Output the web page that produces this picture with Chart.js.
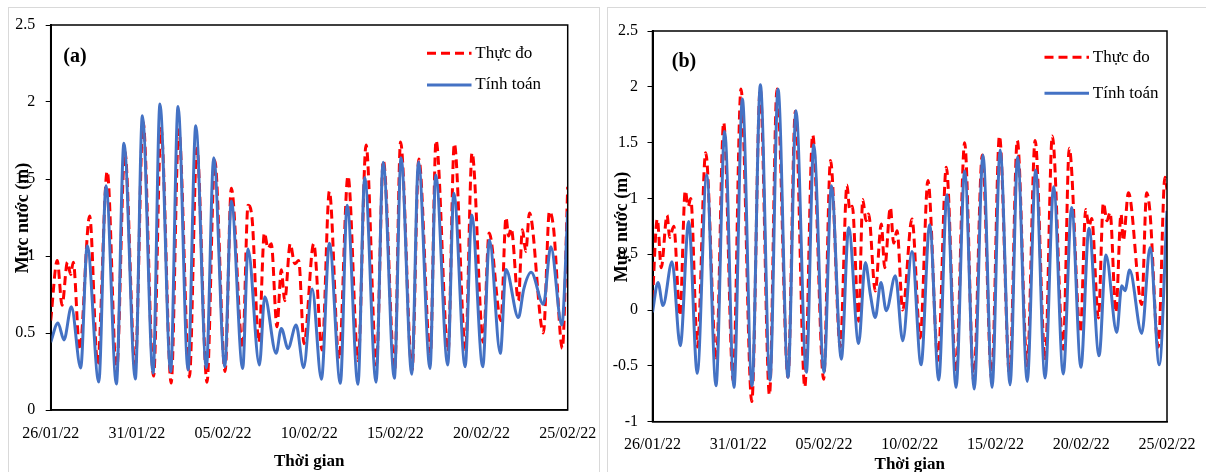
<!DOCTYPE html>
<html><head><meta charset="utf-8">
<script src="https://cdn.jsdelivr.net/npm/chart.js@4.4.1/dist/chart.umd.min.js"></script>
<style>
html,body{margin:0;padding:0;background:#fff;width:1206px;height:472px;overflow:hidden;}
.panel{position:absolute;border:1px solid #d9d9d9;box-sizing:border-box;}
canvas{position:absolute;}
</style></head><body>
<div class="panel" style="left:8px;top:7px;width:592px;height:480px"></div>
<div class="panel" style="left:607px;top:7px;width:610px;height:480px"></div>
<canvas id="ca" width="596" height="464" style="left:8px;top:8px"></canvas>
<canvas id="cb" width="598" height="464" style="left:608px;top:8px"></canvas>
<script>
// ---------- data ----------
const xTickLabels = ['26/01/22','31/01/22','05/02/22','10/02/22','15/02/22','20/02/22','25/02/22'];
const yTickLabelsA = ['0','0.5','1','1.5','2','2.5'];
const yTickLabelsB = ['-1','-0.5','0','0.5','1','1.5','2','2.5'];
const seriesNames = ['Thực đo','Tính toán'];
const xTitle = 'Thời gian';
const yTitle = 'Mực nước (m)';

// Panel (a) – measured (days since 26/01/22, water level m)
const aObsDay = [0,0.38,0.66,0.97,1.16,1.31,1.68,2.26,2.72,3.28,3.82,4.3,4.9,5.36,5.97,6.4,6.99,7.43,8.05,8.48,9.07,9.52,10.12,10.48,11.14,11.45,11.68,12.08,12.4,12.61,12.8,13.13,13.38,13.58,13.9,14.16,14.39,14.7,15.26,15.75,16.17,16.73,17.25,17.84,18.3,18.9,19.3,19.96,20.3,20.97,21.36,22.03,22.36,23.06,23.42,24.07,24.45,25.1,25.44,26.13,26.42,26.57,26.72,27.14,27.37,27.57,27.78,28.59,28.94,29.18,29.69,30];
const aObsLevel = [0.58,0.97,0.68,0.96,0.88,0.96,0.39,1.26,0.30,1.55,0.24,1.68,0.27,1.87,0.22,1.83,0.175,1.82,0.215,1.70,0.18,1.62,0.25,1.44,0.40,1.33,1.25,0.44,1.15,1.05,1.08,0.54,0.91,0.71,1.08,0.95,0.97,0.43,1.08,0.39,1.42,0.33,1.52,0.32,1.72,0.29,1.62,0.26,1.74,0.26,1.63,0.36,1.75,0.38,1.73,0.39,1.67,0.44,1.15,0.58,1.25,1.13,1.18,0.71,1.17,1.03,1.28,0.50,1.29,1.18,0.40,1.45];
// Panel (a) – computed
const aSimDay = [0,0.42,0.77,1.2,1.74,2.12,2.79,3.21,3.81,4.25,4.91,5.32,5.94,6.34,6.96,7.39,7.97,8.42,9.03,9.46,10.1,10.48,11.14,11.45,12.11,12.42,13.08,13.38,13.77,14.24,14.68,15.17,15.71,16.17,16.81,17.2,17.83,18.22,18.88,19.29,19.94,20.33,20.95,21.34,22.01,22.34,23.04,23.39,24.05,24.43,25.07,25.46,26.09,26.42,27.14,27.45,27.88,28.59,29.02,29.66,30];
const aSimLevel = [0.44,0.565,0.455,0.67,0.273,1.067,0.182,1.456,0.169,1.732,0.201,1.911,0.24,1.987,0.249,1.97,0.26,1.846,0.273,1.638,0.281,1.357,0.27,1.045,0.292,0.736,0.368,0.53,0.40,0.552,0.275,0.786,0.20,1.082,0.173,1.33,0.167,1.51,0.18,1.608,0.206,1.638,0.232,1.61,0.27,1.526,0.292,1.407,0.281,1.266,0.281,1.104,0.368,0.913,0.6,0.785,0.894,0.686,1.06,0.552,1.29];

// Panel (b) – measured
const bObsDay = [0,0.28,0.51,0.85,1.0,1.24,1.6,1.91,2.08,2.23,2.62,3.1,3.72,4.15,4.7,5.16,5.79,6.28,6.82,7.26,7.9,8.33,8.88,9.34,9.98,10.38,10.95,11.34,11.5,11.65,12.02,12.26,12.45,12.6,12.99,13.34,13.54,13.87,14.06,14.26,14.59,15.13,15.61,16.06,16.65,17.13,17.7,18.2,18.73,19.23,19.78,20.23,20.83,21.27,21.85,22.31,22.9,23.31,23.95,24.3,24.95,25.26,25.45,25.61,26.0,26.29,26.5,26.68,27.02,27.32,27.45,27.75,28.53,28.81,29.0,29.49,29.88,30];
const bObsLevel = [0.10,0.815,0.38,0.85,0.65,0.75,-0.05,1.07,0.93,1.0,-0.33,1.41,-0.45,1.68,-0.63,1.98,-0.82,1.98,-0.76,1.98,-0.6,1.78,-0.69,1.57,-0.62,1.34,-0.33,1.12,0.90,0.93,-0.1,0.99,0.80,0.86,0.17,0.77,0.38,0.92,0.60,0.71,0.0,0.815,-0.25,1.16,-0.45,1.28,-0.56,1.50,-0.63,1.39,-0.62,1.56,-0.6,1.52,-0.5,1.52,-0.45,1.56,-0.35,1.45,-0.2,0.90,0.75,0.82,-0.07,0.96,0.80,0.875,-0.02,0.86,0.62,1.05,0.05,1.05,0.89,-0.33,1.19,1.08];
// Panel (b) – computed
const bSimDay = [0,0.32,0.61,1.14,1.62,2.11,2.61,3.16,3.7,4.21,4.75,5.24,5.8,6.29,6.85,7.32,7.9,8.37,8.97,9.4,10.0,10.43,11.01,11.44,12.02,12.41,12.7,12.99,13.32,13.63,14.16,14.59,15.13,15.66,16.16,16.69,17.17,17.7,18.2,18.76,19.27,19.8,20.27,20.85,21.29,21.85,22.34,22.89,23.39,23.95,24.44,24.98,25.45,26.04,26.44,27.07,27.36,27.55,27.82,28.53,29.01,29.55,30];
const bSimLevel = [-0.02,0.248,0.04,0.433,-0.32,0.794,-0.567,1.212,-0.678,1.6,-0.693,1.89,-0.678,2.018,-0.627,1.979,-0.603,1.785,-0.558,1.48,-0.56,1.113,-0.44,0.74,-0.3,0.427,0.143,-0.066,0.248,-0.006,0.307,-0.275,0.525,-0.49,0.764,-0.627,1.033,-0.693,1.248,-0.707,1.39,-0.693,1.433,-0.669,1.373,-0.639,1.254,-0.609,1.104,-0.573,0.919,-0.513,0.734,-0.409,0.493,-0.2,0.218,0.173,0.358,-0.209,0.561,-0.49,0.89];

// ---------- build ----------
const pts = (d, v) => d.map((x, i) => ({x: x, y: v[i]}));
const FONT = '"Liberation Serif", "Times New Roman", serif';

function overlay(o) {
  return {
    id: 'overlay',
    afterDraw(chart) {
      const ctx = chart.ctx, ca = chart.chartArea;
      ctx.save();
      ctx.strokeStyle = '#000'; ctx.lineWidth = 1.5;
      ctx.strokeRect(ca.left, ca.top, ca.right - ca.left, ca.bottom - ca.top);
      ctx.fillStyle = '#000';
      ctx.textAlign = 'center'; ctx.textBaseline = 'middle';
      ctx.font = 'bold 20px ' + FONT;
      ctx.fillText(o.tag, o.tagX, o.tagY);
      // legend
      ctx.font = '17px ' + FONT; ctx.textAlign = 'left';
      chart.data.datasets.forEach((ds, i) => {
        const y = o.legY[i];
        ctx.save();
        ctx.strokeStyle = ds.borderColor; ctx.lineWidth = ds.borderWidth;
        ctx.setLineDash(ds.borderDash || []);
        ctx.beginPath(); ctx.moveTo(o.legX0, y); ctx.lineTo(o.legX1, y); ctx.stroke();
        ctx.restore();
        ctx.fillStyle = '#000';
        ctx.fillText(ds.label, o.legTX, y);
      });
      // y-axis title
      ctx.translate(o.ytX, o.ytY); ctx.rotate(-Math.PI / 2);
      ctx.textAlign = 'center'; ctx.font = 'bold 18px ' + FONT;
      ctx.fillText(yTitle, 0, 0);
      ctx.restore();
    }
  };
}

function makeChart(id, obs, sim, yMin, yMax, yLabels, g) {
  return new Chart(document.getElementById(id), {
    type: 'line',
    data: {
      datasets: [
        {label: seriesNames[0], data: obs, borderColor: '#FF0000', borderWidth: 3, borderDash: [9, 5],
         pointRadius: 0, cubicInterpolationMode: 'monotone', fill: false, order: 1},
        {label: seriesNames[1], data: sim, borderColor: '#4472C4', borderWidth: 3,
         pointRadius: 0, cubicInterpolationMode: 'monotone', fill: false, order: 0}
      ]
    },
    options: {
      responsive: false, animation: false, devicePixelRatio: 1,
      layout: {padding: {top: g.padTop, right: g.padRight, left: 0, bottom: 0}},
      plugins: {legend: {display: false}, tooltip: {enabled: false}},
      scales: {
        x: {
          type: 'linear', min: 0, max: 30,
          grid: {display: false},
          border: {display: true, color: '#000', width: 1.5},
          ticks: {stepSize: 5, autoSkip: false, maxRotation: 0, color: '#000', padding: g.xTickPad,
                  font: {family: FONT, size: 16},
                  callback: (v) => xTickLabels[Math.round(v / 5)]},
          title: {display: true, text: xTitle, color: '#000', font: {family: FONT, size: 17, weight: 'bold'},
                  padding: {top: 0, bottom: g.xTitlePad}},
          afterFit: (s) => { s.height = g.xH; s.paddingLeft = 0; s.paddingRight = 0; }
        },
        y: {
          min: yMin, max: yMax,
          grid: {drawOnChartArea: false, drawTicks: true, tickLength: 5, color: '#000', lineWidth: 1},
          border: {display: true, color: '#000', width: 2},
          ticks: {stepSize: 0.5, color: '#000', padding: g.yTickPad, font: {family: FONT, size: 16},
                  callback: (v) => yLabels[Math.round((v - yMin) / 0.5)]},
          afterFit: (s) => { s.width = g.yW; s.paddingTop = 0; s.paddingBottom = 0; }
        }
      }
    },
    plugins: [overlay(g)]
  });
}

makeChart('ca', pts(aObsDay, aObsLevel), pts(aSimDay, aSimLevel), 0, 2.5, yTickLabelsA,
  {padTop: 17, padRight: 36.3, xH: 62, yW: 42.7, xTickPad: 6.4, yTickPad: 10.5, xTitlePad: 0,
   tag: '(a)', tagX: 67, tagY: 49, legY: [45.3, 77], legX0: 419, legX1: 463.5, legTX: 467.3, ytX: 15, ytY: 210});
makeChart('cb', pts(bObsDay, bObsLevel), pts(bSimDay, bSimLevel), -1, 2.5, yTickLabelsB,
  {padTop: 23, padRight: 39, xH: 50.3, yW: 44.5, xTickPad: 5, yTickPad: 9.5, xTitlePad: -3,
   tag: '(b)', tagX: 76, tagY: 54, legY: [49.3, 85.3], legX0: 436.5, legX1: 481, legTX: 484.8, ytX: 14, ytY: 219});
</script>
</body></html>
